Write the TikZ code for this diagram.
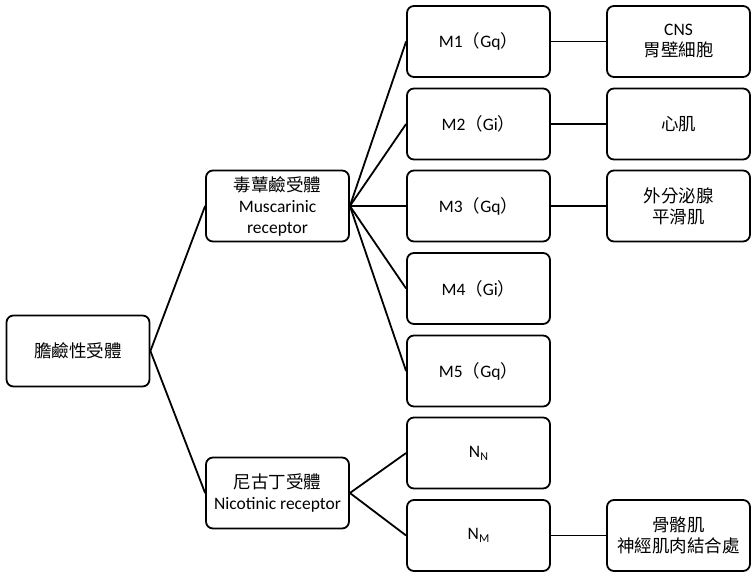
\documentclass[tikz,border=0pt]{standalone}
\usepackage{fontspec}
\setmainfont{Carlito}
\newfontfamily\cjk{Noto Sans CJK TC}
\newcommand{\Nsub}[1]{N\raisebox{-0.35ex}{\fontsize{12}{12}\selectfont #1}}
\begin{document}
\begin{tikzpicture}[x=1pt,y=-1pt,
  box/.style={draw=black,line width=1.8pt,rounded corners=7pt,
    minimum width=143pt,minimum height=71pt,align=center,inner sep=2pt,
    font=\fontsize{17.5}{21}\selectfont},
  link/.style={draw=black,line width=1.8pt}]
\fill[white] (0,0) rectangle (752,575);
\useasboundingbox (0,0) rectangle (752,575);
\node[box] (root) at (78,351) {\cjk 膽鹼性受體};
\node[box] (mus) at (277.5,206) {{\cjk 毒蕈鹼受體}\\Muscarinic\\receptor};
\node[box] (nic) at (277.5,493) {{\cjk 尼古丁受體}\\Nicotinic receptor};
\node[box] (m1) at (478.5,41.5) {M1{\cjk （}Gq{\cjk ）}};
\node[box] (m2) at (478.5,124) {M2{\cjk （}Gi{\cjk ）}};
\node[box] (m3) at (478.5,206) {M3{\cjk （}Gq{\cjk ）}};
\node[box] (m4) at (478.5,288.5) {M4{\cjk （}Gi{\cjk ）}};
\node[box] (m5) at (478.5,371) {M5{\cjk （}Gq{\cjk ）}};
\node[box] (nn) at (478.5,453) {\Nsub{N}};
\node[box] (nm) at (478.5,535.5) {\Nsub{M}};
\node[box] (r1) at (678.5,41.5) {CNS\\{\cjk 胃壁細胞}};
\node[box] (r2) at (678.5,124) {\cjk 心肌};
\node[box] (r3) at (678.5,206) {{\cjk 外分泌腺}\\{\cjk 平滑肌}};
\node[box] (r7) at (678.5,535.5) {{\cjk 骨骼肌}\\{\cjk 神經肌肉結合處}};
\draw[link] (root.east) -- (mus.west);
\draw[link] (root.east) -- (nic.west);
\foreach \m in {m1,m2,m3,m4,m5} \draw[link] (mus.east) -- (\m.west);
\draw[link] (nic.east) -- (nn.west);
\draw[link] (nic.east) -- (nm.west);
\draw[link] (m1.east) -- (r1.west);
\draw[link] (m2.east) -- (r2.west);
\draw[link] (m3.east) -- (r3.west);
\draw[link] (nm.east) -- (r7.west);
\end{tikzpicture}
\end{document}
